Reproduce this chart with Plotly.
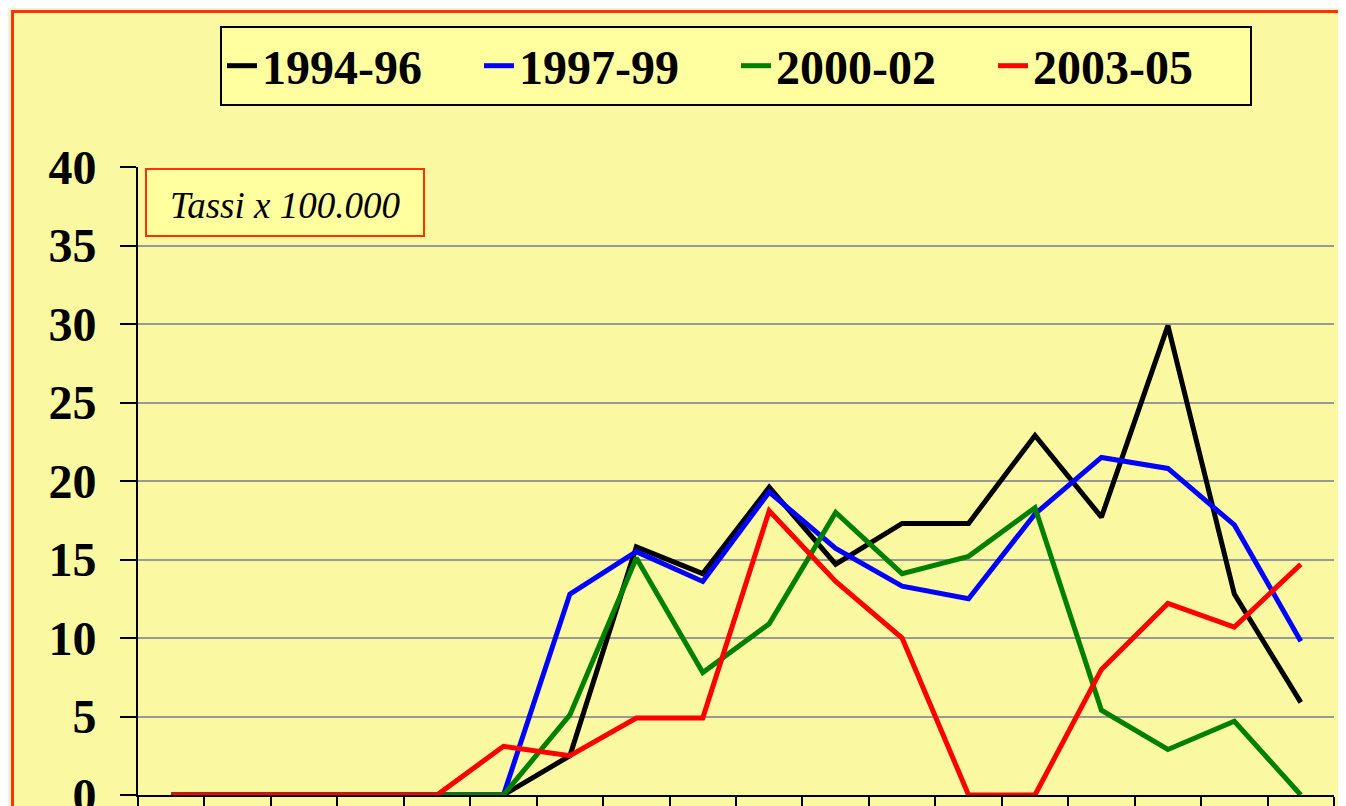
import plotly.graph_objects as go

categories = [str(i) for i in range(1, 19)]
series_names = ["1994-96", "1997-99", "2000-02", "2003-05"]
s1994_96 = [0, 0, 0, 0, 0, 0, 2.5, 15.8, 14.1, 19.6, 14.7, 17.3, 17.3, 22.9, 17.7, 29.9, 12.8, 5.9]
s1997_99 = [0, 0, 0, 0, 0, 0, 12.8, 15.5, 13.6, 19.3, 15.7, 13.3, 12.5, 17.9, 21.5, 20.8, 17.2, 9.8]
s2000_02 = [0, 0, 0, 0, 0, 0, 5.1, 15.1, 7.8, 10.9, 18.0, 14.1, 15.2, 18.3, 5.4, 2.9, 4.7, 0]
s2003_05 = [0, 0, 0, 0, 0, 3.1, 2.5, 4.9, 4.9, 18.1, 13.6, 10.0, 0, 0, 8.0, 12.2, 10.7, 14.7]
colors = ["#000000", "#0000FF", "#008000", "#FF0000"]
y_ticks = [0, 5, 10, 15, 20, 25, 30, 35, 40]

OFF = 8  # default page body margin
W, H = 1346 - OFF, 870 - OFF
L, R, T = 138 - OFF, 12, 167 - OFF
B = H - (795 - OFF)
pw, ph = W - L - R, H - T - B

def px_x(x):
    return (x - OFF - L) / pw

def px_y(y):
    return (H - B - (y - OFF)) / ph

FONT = "Liberation Serif"
fig = go.Figure()
for name, vals, c in zip(series_names, [s1994_96, s1997_99, s2000_02, s2003_05], colors):
    fig.add_trace(go.Scatter(x=categories, y=vals, name=name, mode="lines",
                             line=dict(color=c, width=5)))

fig.update_layout(
    width=W, height=H,
    margin=dict(l=L, r=R, t=T, b=B, autoexpand=False),
    paper_bgcolor="#F6F2D6",
    plot_bgcolor="rgba(0,0,0,0)",
    font=dict(family=FONT, color="black"),
    showlegend=True,
    legend=dict(orientation="h", x=px_x(736), xanchor="center", y=px_y(26), yanchor="top",
                font=dict(family=FONT, size=48, color="black", weight="bold"),
                bgcolor="#FFFFA0", bordercolor="black", borderwidth=2,
                entrywidth=212, tracegroupgap=0),
    xaxis=dict(type="category", range=[-0.5, 17.5], showticklabels=False, automargin=False,
               ticks="outside", tickson="boundaries", ticklen=14, tickwidth=2, tickcolor="black",
               showline=True, linecolor="black", linewidth=2, showgrid=False, zeroline=False),
    yaxis=dict(range=[0, 40], tickvals=y_ticks, ticks="outside", ticklen=16, tickwidth=2,
               tickcolor="black", showline=True, linecolor="black", linewidth=2, automargin=False,
               showgrid=True, gridcolor="#999999", gridwidth=2, zeroline=False,
               tickfont=dict(family=FONT, size=48, color="black", weight="bold"),
               ticklabelstandoff=14),
    shapes=[
        dict(type="rect", xref="paper", yref="paper", layer="below",
             x0=px_x(12.5), x1=px_x(1360), y0=px_y(900), y1=px_y(11.5),
             fillcolor="#FBF8A2", line=dict(color="#FF3300", width=3)),
        dict(type="rect", xref="paper", yref="paper", layer="above",
             x0=px_x(146), x1=px_x(424), y0=px_y(236), y1=px_y(169),
             fillcolor="#FFFF9E", line=dict(color="#FF3300", width=2)),
    ],
    annotations=[
        dict(xref="paper", yref="paper", x=px_x(285), y=px_y(205), text="<i>Tassi x 100.000</i>",
             showarrow=False, xanchor="center", yanchor="middle",
             font=dict(family=FONT, size=37, color="black")),
    ],
)

fig.write_html("out.html")
